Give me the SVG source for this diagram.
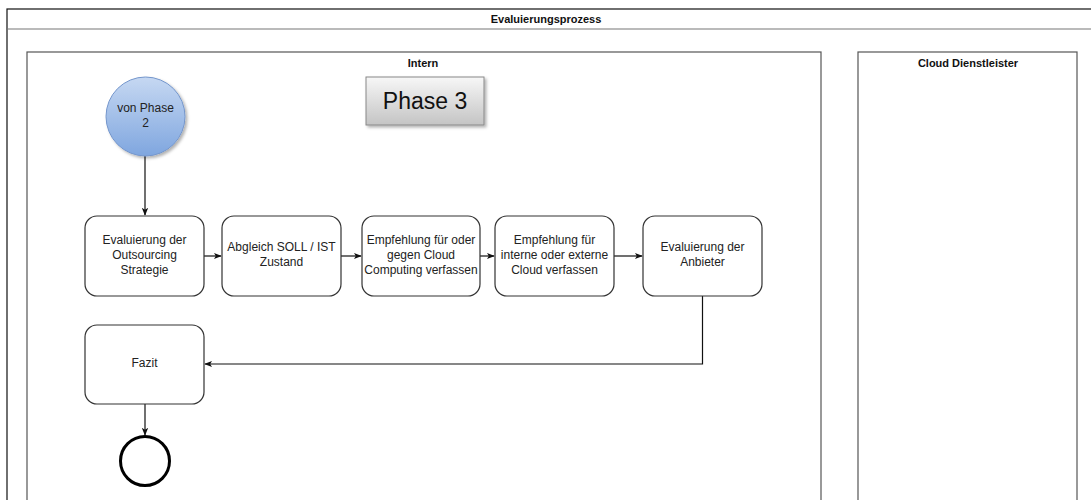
<svg xmlns="http://www.w3.org/2000/svg" width="1091" height="500" viewBox="0 0 1091 500">
  <style>
    .lbl { font-family: "Liberation Sans", Arial, sans-serif; font-size: 12px; fill: #222; text-anchor: middle; }
    .hdr { font-family: "Liberation Sans", Arial, sans-serif; font-size: 11px; font-weight: bold; fill: #111; text-anchor: middle; }
    .task { fill: #ffffff; stroke: #333; stroke-width: 1.2; }
    .lane { fill: none; stroke: #555; stroke-width: 1.2; }
    .conn { fill: none; stroke: #111; stroke-width: 1.2; }
  </style>
  <defs>
    <marker id="arrow" viewBox="0 0 10 10" refX="9" refY="5" markerWidth="8" markerHeight="8" markerUnits="userSpaceOnUse" orient="auto">
      <path d="M0,1 L10,5 L0,9 L2.5,5 Z" fill="#111"/>
    </marker>
    <linearGradient id="startFill" x1="0" y1="0" x2="0" y2="1">
      <stop offset="0" stop-color="#c6d8f2"/>
      <stop offset="1" stop-color="#7fa6df"/>
    </linearGradient>
    <linearGradient id="phaseFill" x1="0" y1="0" x2="0" y2="1">
      <stop offset="0" stop-color="#f7f7f7"/>
      <stop offset="1" stop-color="#c4c4c4"/>
    </linearGradient>
    <filter id="shadow" x="-20%" y="-20%" width="140%" height="150%">
      <feDropShadow dx="2" dy="2" stdDeviation="1.5" flood-color="#000" flood-opacity="0.3"/>
    </filter>
  </defs>

  <!-- pool frame -->
  <g id="pool">
    <rect x="7" y="9" width="1090" height="500" fill="#fff" stroke="#111" stroke-width="1.2"/>
    <line x1="7" y1="29" x2="1091" y2="29" stroke="#777" stroke-width="1.2"/>
    <text class="hdr" x="546" y="23">Evaluierungsprozess</text>
  </g>

  <!-- lanes -->
  <g id="lane-intern">
    <rect class="lane" x="27" y="52" width="794" height="460"/>
    <text class="hdr" x="423" y="67">Intern</text>
  </g>
  <g id="lane-cloud">
    <rect class="lane" x="858" y="52" width="219" height="460"/>
    <text class="hdr" x="968" y="67">Cloud Dienstleister</text>
  </g>

  <!-- phase label -->
  <g id="phase3">
    <rect x="366" y="77" width="118" height="48" fill="url(#phaseFill)" stroke="#888" stroke-width="1" filter="url(#shadow)"/>
    <text x="425" y="109" font-family="'Liberation Sans', Arial, sans-serif" font-size="23" fill="#111" text-anchor="middle">Phase 3</text>
  </g>

  <!-- connectors -->
  <g id="connectors">
    <line class="conn" x1="145" y1="156" x2="145" y2="215" marker-end="url(#arrow)"/>
    <line class="conn" x1="204" y1="256" x2="221" y2="256" marker-end="url(#arrow)"/>
    <line class="conn" x1="341" y1="256" x2="361" y2="256" marker-end="url(#arrow)"/>
    <line class="conn" x1="480" y1="256" x2="494" y2="256" marker-end="url(#arrow)"/>
    <line class="conn" x1="614" y1="256" x2="642" y2="256" marker-end="url(#arrow)"/>
    <polyline class="conn" points="702.5,296 702.5,364 205,364" marker-end="url(#arrow)"/>
    <line class="conn" x1="145" y1="404" x2="145" y2="435" marker-end="url(#arrow)"/>
  </g>

  <!-- start event -->
  <g id="start">
    <circle cx="145.5" cy="116.5" r="39.5" fill="url(#startFill)" stroke="#7496cc" stroke-width="1" filter="url(#shadow)"/>
    <text class="lbl" x="145.5" y="112">von Phase</text>
    <text class="lbl" x="145.5" y="127">2</text>
  </g>

  <g id="task-outsourcing">
    <rect class="task" x="85" y="216" width="119" height="80" rx="12"/>
    <text class="lbl" x="144.5" y="244">Evaluierung der</text>
    <text class="lbl" x="144.5" y="259">Outsourcing</text>
    <text class="lbl" x="144.5" y="274">Strategie</text>
  </g>

  <g id="task-abgleich">
    <rect class="task" x="222" y="216" width="119" height="80" rx="12"/>
    <text class="lbl" x="281.5" y="251">Abgleich SOLL / IST</text>
    <text class="lbl" x="281.5" y="266">Zustand</text>
  </g>

  <g id="task-empfehlung-cloud">
    <rect class="task" x="362" y="216" width="118" height="80" rx="12"/>
    <text class="lbl" x="421" y="244">Empfehlung für oder</text>
    <text class="lbl" x="421" y="259">gegen Cloud</text>
    <text class="lbl" x="421" y="274">Computing verfassen</text>
  </g>

  <g id="task-empfehlung-intern-extern">
    <rect class="task" x="495" y="216" width="119" height="80" rx="12"/>
    <text class="lbl" x="554.5" y="244">Empfehlung für</text>
    <text class="lbl" x="554.5" y="259">interne oder externe</text>
    <text class="lbl" x="554.5" y="274">Cloud verfassen</text>
  </g>

  <g id="task-anbieter">
    <rect class="task" x="643" y="216" width="119" height="80" rx="12"/>
    <text class="lbl" x="702.5" y="251">Evaluierung der</text>
    <text class="lbl" x="702.5" y="266">Anbieter</text>
  </g>

  <g id="task-fazit">
    <rect class="task" x="85" y="325" width="119" height="79" rx="12"/>
    <text class="lbl" x="144.5" y="367">Fazit</text>
  </g>

  <!-- end event -->
  <g id="end">
    <circle cx="145" cy="461" r="24.5" fill="#fff" stroke="#000" stroke-width="3"/>
  </g>
</svg>
